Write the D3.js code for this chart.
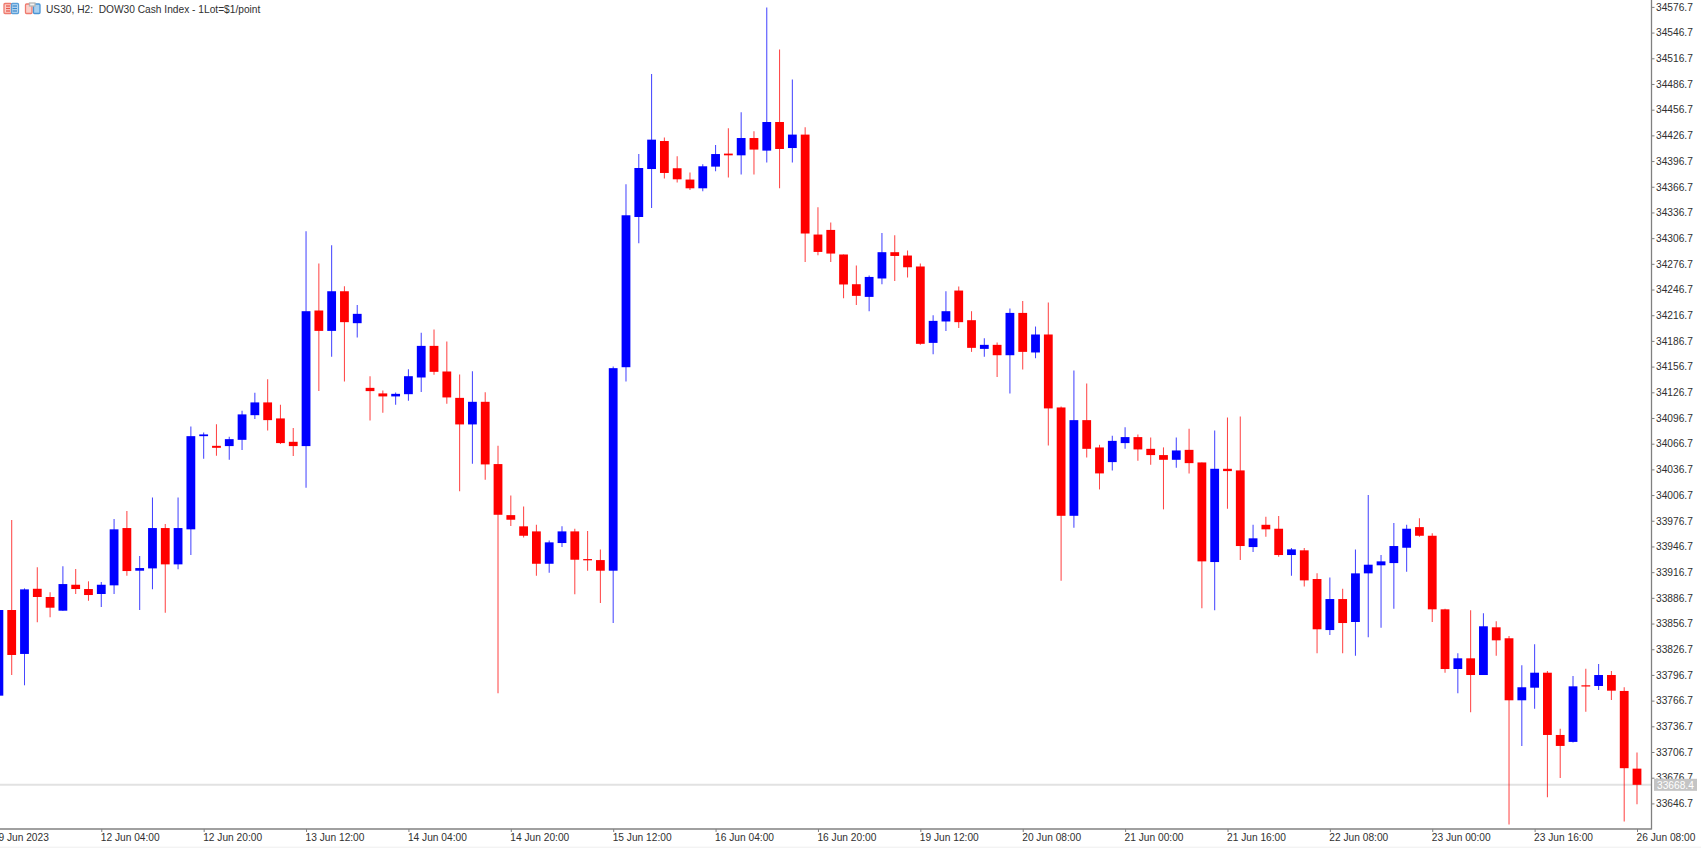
<!DOCTYPE html>
<html><head><meta charset="utf-8">
<style>
html,body{margin:0;padding:0;background:#fff;overflow:hidden}
svg{display:block}
text{font-family:"Liberation Sans",Arial,sans-serif;font-size:10.2px;fill:#303030;white-space:pre}
</style>
<script src="https://cdn.jsdelivr.net/npm/d3@7/dist/d3.min.js"></script>
</head><body>
<svg id="c" width="1701" height="848"></svg>
<script>
const title = "US30, H2:  DOW30 Cash Index - 1Lot=$1/point";
const lastPrice = 33668.4;
const open = [33772.5,33872.5,33821.2,33897.3,33887.7,33871.7,33902,33897,33891.2,33901.3,33968.2,33918.4,33921.1,33968.2,33925.8,33966.7,34075.5,34064.2,34063.9,34071.2,34100,34114.9,34096.2,34068.9,34063.9,34222.2,34198.4,34244.7,34207.4,34131.9,34125.4,34121.9,34124.5,34144,34180.9,34151,34120.2,34089.2,34115.6,34042.9,33983.3,33970.2,33964.3,33926.5,33950.7,33964.3,33932,33930.8,33918.4,34156,34331.4,34387.4,34420.1,34388.3,34375.1,34364.9,34390.2,34405.4,34403.4,34423.6,34408.9,34442.3,34411.9,34427.6,34310.9,34316.3,34287.6,34252.9,34238.1,34259.6,34290.3,34286.4,34273.6,34184.4,34209.4,34245.5,34210.9,34177.4,34182.1,34170,34219.4,34173.2,34194.2,34109,33982.5,34094.2,34062.3,34045.2,34067.4,34074.4,34060.7,34053.4,34047.9,34059.5,34044.8,33928.5,34037.4,34035.5,33946,33972,33967.4,33936.7,33942.2,33908.7,33849.1,33885.3,33858.5,33915.3,33924.7,33927.3,33945.2,33969.3,33959.2,33873.3,33803.6,33816.1,33796.6,33852.3,33839.5,33767.1,33781.8,33799.3,33726.6,33718.5,33784.6,33783.8,33796.6,33778,33687.3];
const high = [33872.5,33977.5,33897.8,33922.3,33893.1,33923.5,33920.3,33906,33905.2,33978.7,33988,33935.5,34004,33972.8,34004,34086.8,34079.8,34089.5,34074.7,34105.1,34126.1,34142,34112.1,34084.9,34314.7,34277.1,34298.4,34250.6,34228.7,34145.5,34128.9,34126.5,34153.7,34196.1,34200,34186,34147.5,34151.4,34126.9,34064.2,34006.3,33993.5,33972,33953.8,33970.2,33967.4,33964.7,33943.3,34156.9,34369.6,34404.9,34498.3,34424.1,34402.3,34383.2,34392.9,34415.5,34434.9,34453.6,34431.4,34576.1,34527.1,34491.8,34436.1,34342.7,34324.9,34287.6,34274.7,34263.1,34312.8,34310.1,34292.2,34277.1,34216.7,34244.7,34250.2,34221.4,34189.9,34184.9,34224.5,34233.4,34203.5,34231.5,34110.2,34152.2,34137,34065.4,34075.9,34086,34077.5,34074,34062.4,34074,34084.1,34044.8,34082.2,34097.3,34098.5,33972,33981.4,33982.2,33944.9,33944.9,33915.3,33910.6,33897.3,33943.3,34006.7,33936.7,33974,33972,33979.5,33962,33874,33822,33872.1,33868.6,33859.3,33842.2,33808,33832.5,33801.3,33734,33795.5,33804,33809.5,33801.3,33782.3,33706];
const low = [33772.5,33796.6,33784.6,33858.1,33864,33871.7,33891.2,33883.3,33876,33891.2,33912.5,33872.5,33896.6,33869.3,33920,33936.7,34049,34052.5,34047.9,34059.2,34095.4,34082.2,34066.2,34052.2,34015.2,34128.1,34168.1,34139.4,34190.7,34093.9,34102.7,34112.1,34116.7,34127.2,34147.1,34113.2,34011.3,34043.2,34024.5,33775.3,33970.5,33957.3,33912.5,33916,33946,33890.8,33918.4,33880.7,33857.3,34139.4,34300.7,34341.9,34376.2,34371.6,34362.9,34361.4,34384.8,34377.4,34380.9,34380.9,34394.9,34364.9,34394.9,34278.9,34286.7,34278.9,34236.6,34228.7,34221.4,34252.9,34256.8,34260.7,34182.1,34171.2,34198.4,34201.9,34173.9,34168.1,34144.7,34125.4,34153.4,34166.5,34064.7,33906.7,33968.5,34050.7,34013.3,34035.5,34060.7,34046.7,34042,33990,34038.6,34032,33874.5,33872.1,33990.7,33930.8,33940.2,33958,33934.7,33912.5,33900.1,33822,33843.3,33822,33819.2,33840.6,33851.8,33874,33917.2,33958,33858.5,33799.3,33775.3,33753.1,33796.6,33819.2,33622,33713.8,33757.3,33653.9,33676.4,33717.7,33753.8,33779.1,33767.5,33625.5,33645.8];
const close = [33872.5,33820,33896.6,33887.7,33875.2,33902.8,33897,33890,33902,33966.7,33918,33921.5,33968.2,33925.8,33968.2,34075.5,34077.5,34061.9,34072,34100.9,34114.9,34094.2,34067.4,34063.9,34221.4,34198.4,34244.7,34208.6,34218.3,34128.1,34121.9,34124.9,34145.5,34180.9,34150.6,34120.7,34089.2,34115.6,34042.5,33983.7,33977.9,33959.2,33926.5,33951.5,33964.3,33931.2,33930.5,33918.4,34154.9,34333.4,34388.6,34421.7,34382.8,34375.4,34364.9,34390.6,34404.9,34403.4,34423.6,34410.1,34442.3,34410.8,34427.6,34312.1,34290.6,34288.7,34252.6,34239.3,34261.4,34290.3,34285.9,34272.7,34183.3,34210.1,34221.4,34208.6,34178.6,34182.1,34170,34219.4,34173.9,34194.2,34107.9,33982.5,34094.2,34060.7,34032,34070,34074.4,34060,34053.4,34047.9,34058.8,34044,33929.3,34037.4,34034.7,33947.2,33956.2,33966.7,33936.7,33943.3,33907.1,33850,33885.3,33857.3,33915.3,33925.4,33929.3,33947.2,33967.4,33959.2,33873.3,33803.6,33816.1,33796.6,33853.5,33837.1,33767.1,33782.3,33799.3,33726.6,33713.8,33783.4,33783.8,33796.6,33778.3,33687.8,33668.4];
const priceTicks = [34576.7,34546.7,34516.7,34486.7,34456.7,34426.7,34396.7,34366.7,34336.7,34306.7,34276.7,34246.7,34216.7,34186.7,34156.7,34126.7,34096.7,34066.7,34036.7,34006.7,33976.7,33946.7,33916.7,33886.7,33856.7,33826.7,33796.7,33766.7,33736.7,33706.7,33676.7,33646.7];
const timeTickBars = [0,8,16,24,32,40,48,56,64,72,80,88,96,104,112,120,128];
const timeTickLabels = ["9 Jun 2023","12 Jun 04:00","12 Jun 20:00","13 Jun 12:00","14 Jun 04:00","14 Jun 20:00","15 Jun 12:00","16 Jun 04:00","16 Jun 20:00","19 Jun 12:00","20 Jun 08:00","21 Jun 00:00","21 Jun 16:00","22 Jun 08:00","23 Jun 00:00","23 Jun 16:00","26 Jun 08:00"];

const UP = "#0000ff", DOWN = "#ff0000", AXIS = "#808080";
const svg = d3.select("#c");
const axisX = 1651.5, axisY = 829;
const x = d3.scaleLinear().domain([0,128]).range([-1.1,1637]);
const y = d3.scaleLinear().domain([33646.7,34576.7]).range([803.4,6.9]);
const bodyW = 8.8;

// current price line
svg.append("line").attr("x1",0).attr("x2",axisX).attr("y1",y(lastPrice)).attr("y2",y(lastPrice))
  .attr("stroke","#e2e2e2").attr("stroke-width",2);

// candles
const idx = d3.range(open.length);
const g = svg.append("g");
g.selectAll("line.w").data(idx).join("line").attr("class","w")
  .attr("x1",i=>x(i)).attr("x2",i=>x(i))
  .attr("y1",i=>y(high[i])).attr("y2",i=>y(low[i]))
  .attr("stroke",i=>close[i]>=open[i]?UP:DOWN)
  .attr("stroke-width",1.05).attr("stroke-opacity",0.72);
g.selectAll("rect.b").data(idx).join("rect").attr("class","b")
  .attr("x",i=>x(i)-bodyW/2).attr("width",bodyW)
  .attr("y",i=>y(Math.max(open[i],close[i])))
  .attr("height",i=>Math.max(1.2,Math.abs(y(open[i])-y(close[i]))))
  .attr("fill",i=>close[i]>=open[i]?UP:DOWN);

// right price axis
const ay = svg.append("g").attr("transform",`translate(${axisX},0)`)
  .call(d3.axisRight(y).tickValues(priceTicks).tickFormat(d3.format(".1f")).tickSize(3).tickPadding(1.5));
ay.select(".domain").attr("d",`M0,0V${axisY+0.5}`).attr("stroke",AXIS).attr("stroke-width",1.3);
ay.selectAll(".tick line").attr("stroke",AXIS);
ay.selectAll(".tick text").style("font-size","10.2px").attr("fill","#303030");

// current price tag
const tagG = svg.append("g");
tagG.append("rect").attr("x",1654).attr("y",y(lastPrice)-6).attr("width",43).attr("height",12).attr("fill","#c4c4c4");
tagG.append("text").attr("x",1657).attr("y",y(lastPrice)+4).style("fill","#ffffff").text(d3.format(".1f")(lastPrice));

// bottom time axis
const ax = svg.append("g").attr("transform",`translate(0,${axisY})`)
  .call(d3.axisBottom(x).tickValues(timeTickBars).tickFormat((d,i)=>timeTickLabels[i]).tickSize(3).tickPadding(1.5));
ax.select(".domain").attr("d",`M0,0H${axisX}`).attr("stroke",AXIS).attr("stroke-width",1.3);
ax.selectAll(".tick line").attr("stroke",AXIS);
ax.selectAll(".tick text").attr("text-anchor","start").attr("dx",-1).style("font-size","10.2px").attr("fill","#303030");

// window bottom edge
svg.append("rect").attr("x",0).attr("y",846.6).attr("width",1701).attr("height",1.4).attr("fill","#f3f3f3");

// header icons and title
const ic = svg.append("g").attr("stroke-width",1.3);
ic.append("rect").attr("x",4).attr("y",3.5).attr("width",7.5).attr("height",10).attr("rx",1).attr("fill","#fbd0ca").attr("stroke","#ee7a6e");
ic.append("rect").attr("x",11.5).attr("y",3.5).attr("width",7).attr("height",10).attr("rx",1).attr("fill","#c4def3").attr("stroke","#5a9fd8");
[6,8.5,11].forEach(v=>{
  ic.append("line").attr("x1",6).attr("x2",10).attr("y1",v).attr("y2",v).attr("stroke","#e8584c");
  ic.append("line").attr("x1",12.5).attr("x2",17).attr("y1",v).attr("y2",v).attr("stroke","#3a88cc");
});
ic.append("rect").attr("x",25.5).attr("y",4).attr("width",6.5).attr("height",9.5).attr("rx",1).attr("fill","#fbd0ca").attr("stroke","#ee7a6e");
ic.append("rect").attr("x",33.5).attr("y",4).attr("width",6.5).attr("height",9.5).attr("rx",1).attr("fill","#a9d0ef").attr("stroke","#4a94d4");
ic.append("rect").attr("x",29.5).attr("y",3).attr("width",5.5).attr("height",3).attr("fill","#f2f2f2").attr("stroke","#b5b5b5");
svg.append("text").attr("x",46).attr("y",13).style("font-size","10.2px").text(title);
</script>
</body></html>
